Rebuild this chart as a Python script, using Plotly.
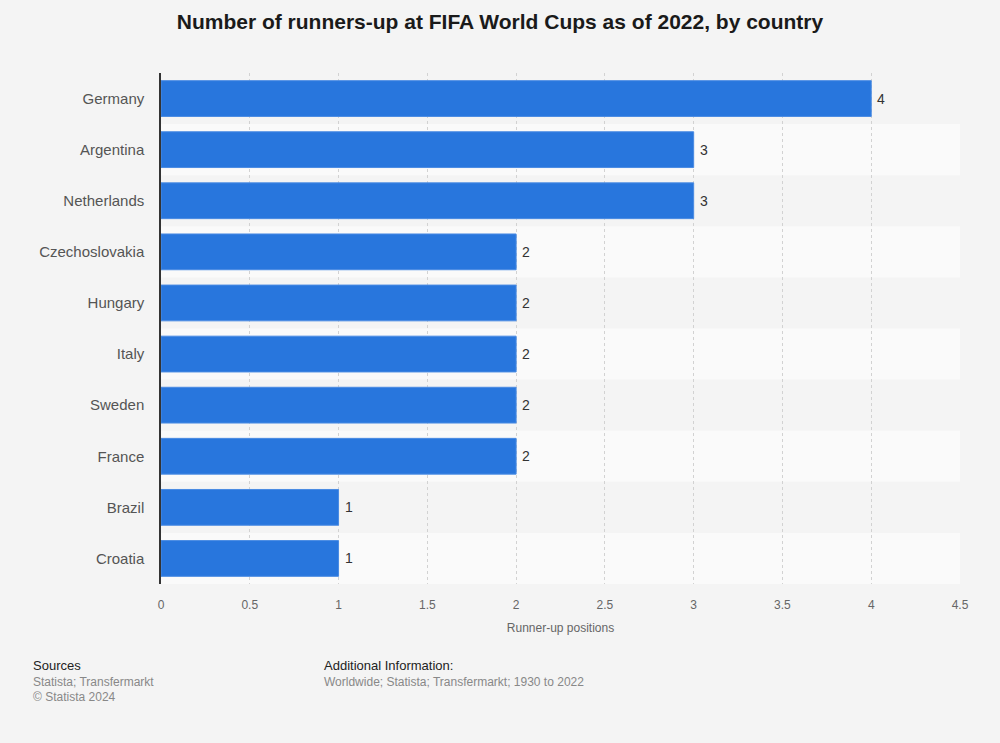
import plotly.graph_objects as go

countries = ["Germany", "Argentina", "Netherlands", "Czechoslovakia", "Hungary",
             "Italy", "Sweden", "France", "Brazil", "Croatia"]
runners_up = [4, 3, 3, 2, 2, 2, 2, 2, 1, 1]
x_ticks = [0, 0.5, 1, 1.5, 2, 2.5, 3, 3.5, 4, 4.5]

FONT = "Liberation Sans, Arial, sans-serif"

W, H = 1000, 743
ML, MR, MT, MB = 161, 40, 73, 159
PW, PH = W - ML - MR, H - MT - MB

fig = go.Figure()
fig.add_trace(go.Bar(
    x=runners_up, y=countries, orientation="h",
    marker=dict(color="#2876dd", line=dict(color="#4a8be3", width=1)),
    width=0.7, hoverinfo="x+y",
))

shapes = []
for i, c in enumerate(countries):
    if i % 2 == 1:
        shapes.append(dict(type="rect", xref="paper", x0=0, x1=1, yref="y",
                           y0=i - 0.5, y1=i + 0.5, fillcolor="#fafafa",
                           line=dict(width=0), layer="below"))

annotations = []
for c, v in zip(countries, runners_up):
    annotations.append(dict(x=v, y=c, xref="x", yref="y", text=str(v),
                            xanchor="left", yanchor="middle", xshift=4, showarrow=False,
                            font=dict(family=FONT, size=14, color="#333333")))

footer = [
    ("Sources", 31, 665, True),
    ("Statista; Transfermarkt", 31, 682, False),
    ("© Statista 2024", 31, 697, False),
    ("Additional Information:", 322, 665, True),
    ("Worldwide; Statista; Transfermarkt; 1930 to 2022", 322, 682, False),
]
for text, px, py, dark in footer:
    annotations.append(dict(text=text, xref="paper", yref="paper",
                            x=(px - ML) / PW, y=(H - MB - py) / PH,
                            xanchor="left", yanchor="middle", showarrow=False,
                            font=dict(family=FONT, size=13 if dark else 12,
                                      color="#222222" if dark else "#888888")))

fig.update_layout(
    width=W, height=H,
    paper_bgcolor="#f4f4f4", plot_bgcolor="#f4f4f4",
    margin=dict(l=ML, r=MR, t=MT, b=MB),
    title=dict(text="<b>Number of runners-up at FIFA World Cups as of 2022, by country</b>",
               x=0.5, xanchor="center", y=1 - 22 / H, yanchor="middle",
               font=dict(family=FONT, size=21, color="#1a1a1a")),
    showlegend=False,
    shapes=shapes,
    annotations=annotations,
    xaxis=dict(range=[0, 4.5], tickvals=x_ticks, ticktext=[f"{t:g}" for t in x_ticks],
               showgrid=True, gridcolor="#d2d2d2", griddash="dot", gridwidth=1,
               zeroline=False, showline=False,
               ticks="outside", ticklen=10, tickcolor="rgba(0,0,0,0)",
               tickfont=dict(family=FONT, size=12, color="#666666"),
               title=dict(text="Runner-up positions", standoff=12,
                          font=dict(family=FONT, size=12, color="#666666"))),
    yaxis=dict(categoryorder="array", categoryarray=countries, autorange="reversed",
               showgrid=False, zeroline=False, showline=True, linecolor="#333333", linewidth=1.5,
               ticks="outside", ticklen=12, tickcolor="rgba(0,0,0,0)",
               tickfont=dict(family=FONT, size=15, color="#555555")),
)

fig.write_html("out.html", config={"displayModeBar": False},
               post_script="document.body.style.margin='0';document.body.style.overflow='hidden';")
